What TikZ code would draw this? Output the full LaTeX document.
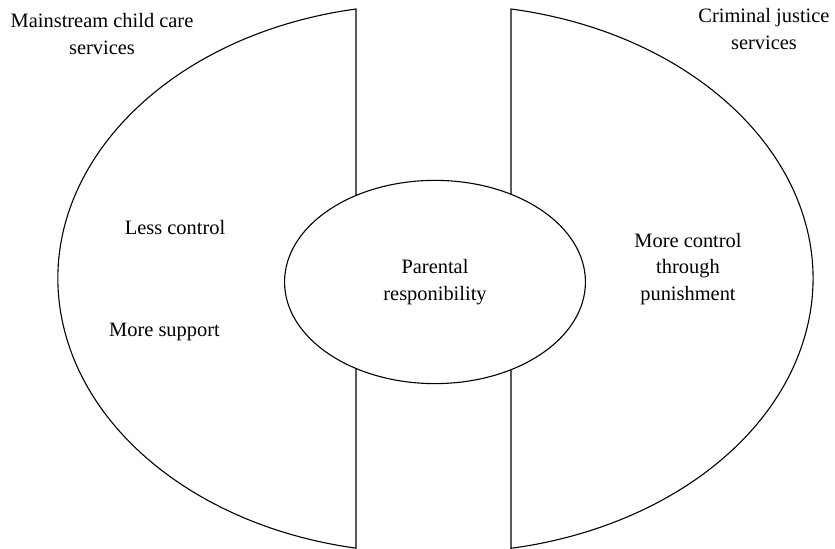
\documentclass[tikz,border=0pt]{standalone}
\usepackage{fontspec}
\setmainfont{Liberation Serif}
\usetikzlibrary{shapes.geometric}

\begin{document}
\begin{tikzpicture}[x=1bp, y=1bp, line width=1.1bp,
	txt/.style={font=\fontsize{20.5}{26.5}\selectfont, align=center, inner sep=0pt}]
	\useasboundingbox (0,0) rectangle (835,549);
	
	% Corner points of the two half shapes
	\coordinate (lefttop) at (356,540);
	\coordinate (righttop) at (511,540);
	
	% Draw the left half shape (child care)
	\draw (lefttop) arc[start angle=100.3, end angle=259.7, x radius=363, y radius=274] -- cycle;
	
	% Draw the right half shape (justice)
	\draw (righttop) arc[start angle=79.8, end angle=-79.8, x radius=367, y radius=274] -- cycle;
	
	% Central ellipse on top
	\node[ellipse, draw, fill=white, minimum width=302, minimum height=204, txt] (parent) at (435,267)
		{Parental\\responibility};
	
	% Labels of the two services
	\node[txt] (care) at (102,515) {Mainstream child care\\services};
	\node[txt] (justice) at (764,520) {Criminal justice\\services};
	
	% Labels inside the left shape
	\node[txt, anchor=base] (less) at (175,314) {Less control};
	\node[txt, anchor=base] (support) at (164.5,212) {More support};
	
	% Label inside the right shape
	\node[txt] (more) at (688,280) {More control\\through\\punishment};
\end{tikzpicture}
\end{document}
